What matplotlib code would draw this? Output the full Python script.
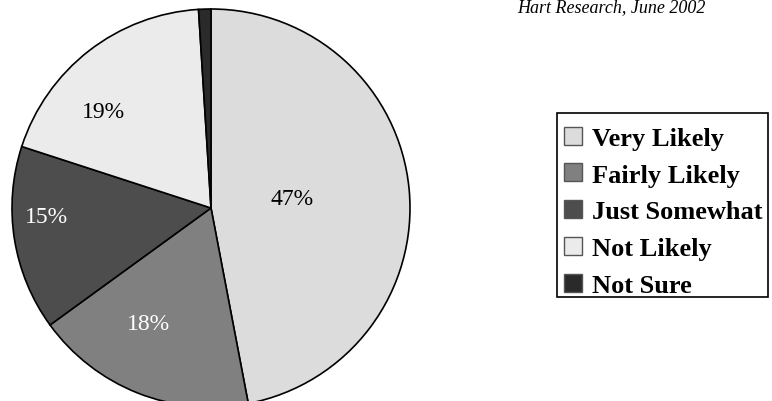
import matplotlib.pyplot as plt
from matplotlib.patches import Rectangle
import numpy as np

categories = ["Very Likely", "Fairly Likely", "Just Somewhat", "Not Likely", "Not Sure"]
shares = [47, 18, 15, 19, 1]
colors = ["#dcdcdc", "#808080", "#4d4d4d", "#ebebeb", "#2a2a2a"]
label_colors = ["black", "white", "white", "black", "white"]
source = "Hart Research, June 2002"

# label placement (angle in degrees, radius as fraction of pie radius)
label_pos = [(7.0, 0.41), (-118.5, 0.663), (-176.9, 0.83), (137.9, 0.725)]

plt.rcParams['font.family'] = ['Liberation Serif', 'DejaVu Serif']

fig = plt.figure(figsize=(7.72, 4.02), dpi=100)
ax = fig.add_axes([12 / 772, -6 / 402, 398 / 772, 398 / 402])

wedges, _ = ax.pie(shares, colors=colors, startangle=90, counterclock=False,
                   radius=1.0, wedgeprops=dict(edgecolor="black", linewidth=1.2))
ax.set_xlim(-1.0, 1.0)
ax.set_ylim(-1.0, 1.0)
ax.set_aspect("equal")
ax.axis("off")

for (ang, r), val, c in zip(label_pos, shares, label_colors):
    t = np.deg2rad(ang)
    ax.text(r * np.cos(t), r * np.sin(t), f"{val}%", ha="center", va="center",
            fontsize=17, color=c)

fig.text(611 / 772, 1 - 12 / 402, source, ha="center", va="baseline",
         fontsize=13, style="italic")

# legend entries without frame; the box is drawn separately so the text sits low
leg = fig.legend(wedges, categories, loc="upper left",
                 bbox_to_anchor=(557 / 772, 1 - 121 / 402),
                 prop=dict(family='Liberation Serif', weight='bold', size=19),
                 frameon=False,
                 handlelength=0.68, handleheight=0.68, handletextpad=0.38,
                 labelspacing=0.51, borderpad=0.25, borderaxespad=0)
for h in leg.legend_handles:
    h.set_edgecolor("#555555")
    h.set_linewidth(1.0)

fig.patches.append(Rectangle((557 / 772, 1 - 298 / 402), 211 / 772, 184 / 402,
                             transform=fig.transFigure, fill=False,
                             edgecolor="black", linewidth=1.2))

fig.savefig("out.png", dpi=100)
